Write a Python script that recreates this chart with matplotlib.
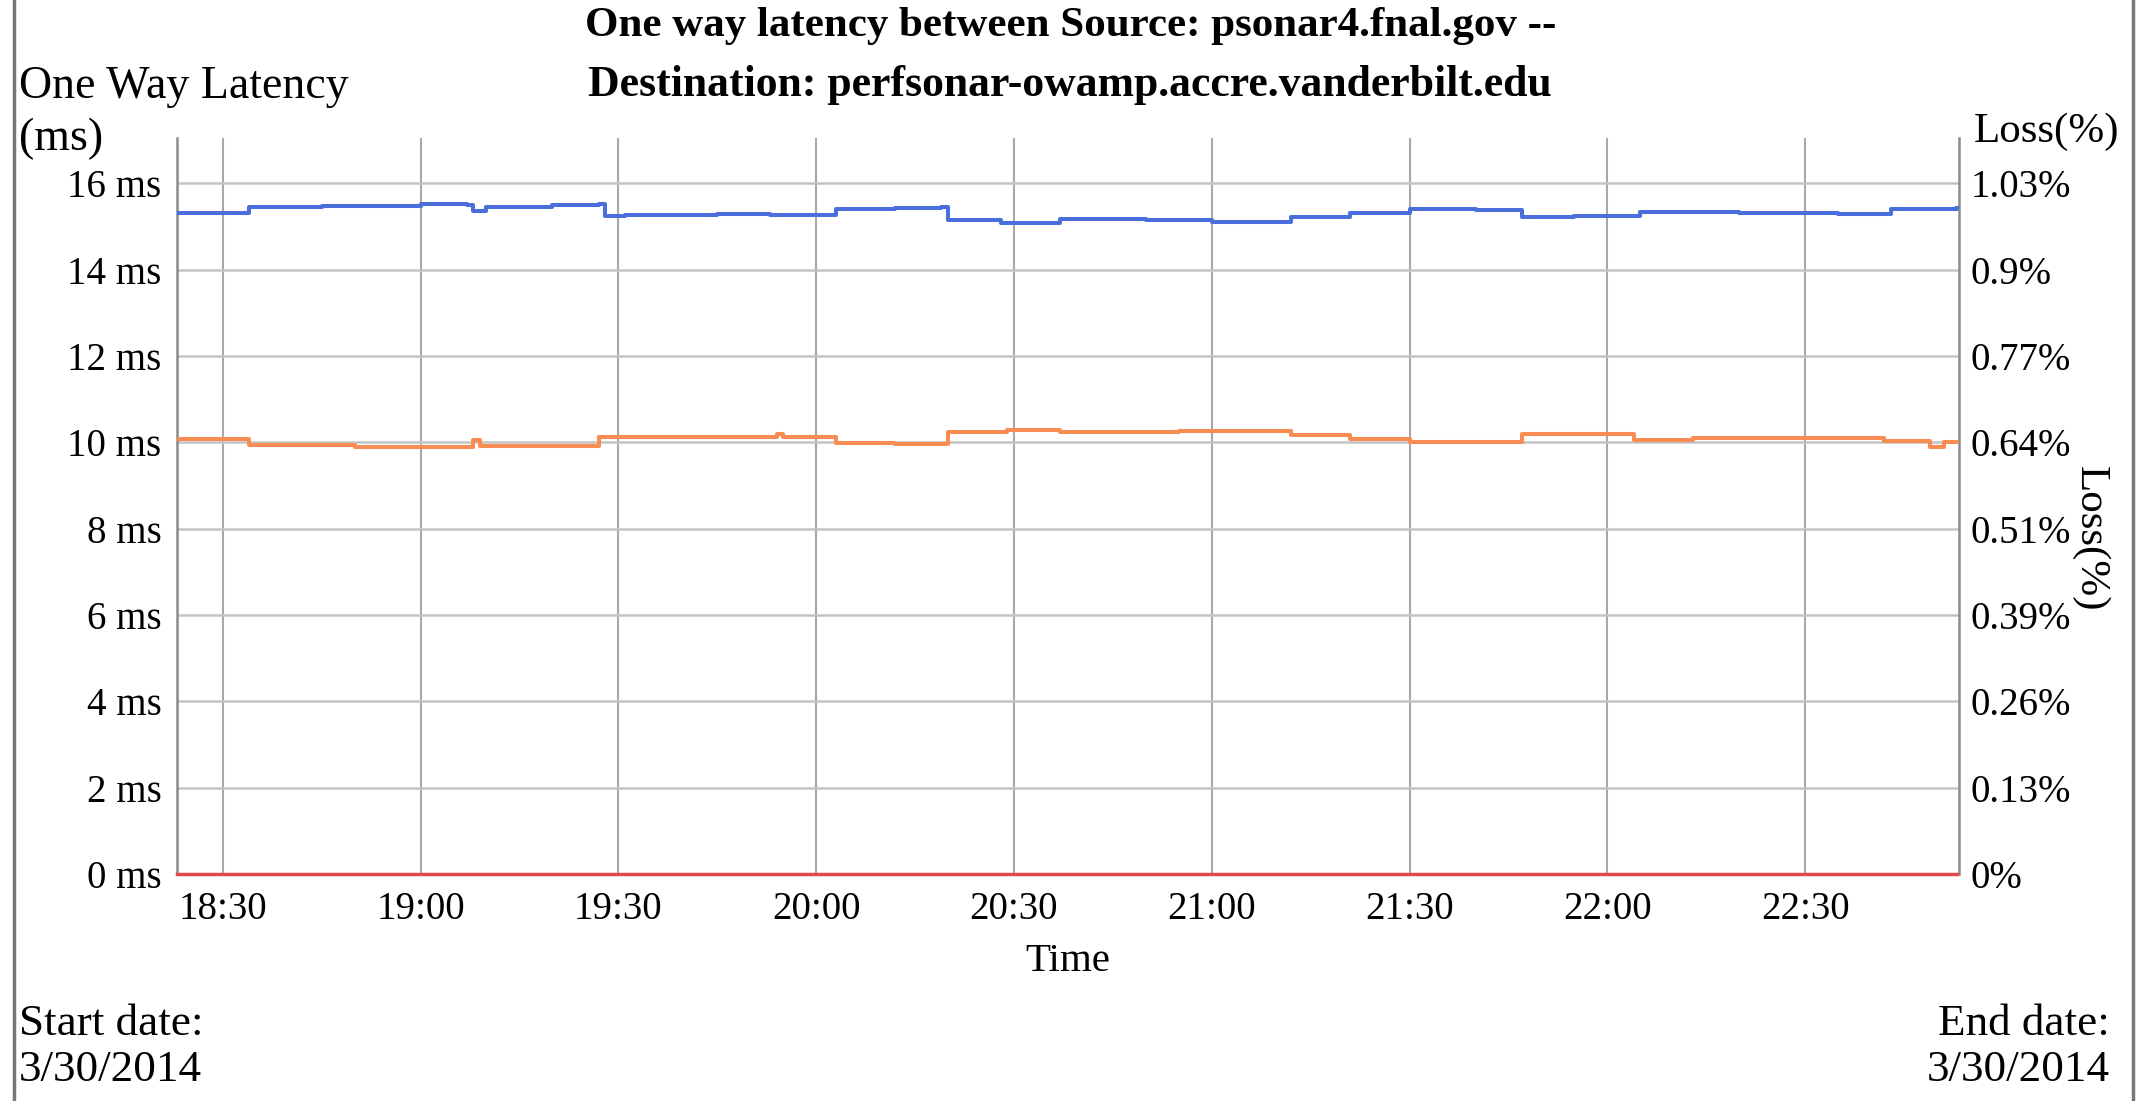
import matplotlib.pyplot as plt
import matplotlib.dates as mdates
import pandas as pd
from matplotlib.lines import Line2D

plt.rcParams['font.family'] = ['Liberation Serif', 'DejaVu Serif']

day = "2014-03-30 "

# one way delay, source -> destination (blue), step values held until next time
fwd_times = ["18:23", "18:34", "18:45", "19:00", "19:07", "19:08", "19:10", "19:20",
             "19:27", "19:28", "19:31", "19:45", "19:53", "20:03", "20:12", "20:19",
             "20:20", "20:28", "20:37", "20:50", "21:00", "21:12", "21:21", "21:30",
             "21:40", "21:47", "21:55", "22:05", "22:20", "22:35", "22:43", "22:53"]
fwd_ms = [15.30, 15.46, 15.48, 15.51, 15.50, 15.35, 15.46, 15.49,
          15.51, 15.24, 15.27, 15.28, 15.26, 15.41, 15.43, 15.44,
          15.16, 15.08, 15.18, 15.16, 15.10, 15.23, 15.31, 15.40,
          15.38, 15.21, 15.24, 15.34, 15.31, 15.28, 15.41, 15.42]

# one way delay, reverse direction (orange)
rev_times = ["18:23", "18:34", "18:50", "19:07", "19:08", "19:09", "19:27", "19:53",
             "19:54", "19:55", "20:03", "20:12", "20:20", "20:29", "20:37", "20:55",
             "21:12", "21:21", "21:30", "21:47", "22:04", "22:13", "22:42", "22:49",
             "22:51", "22:53"]
rev_ms = [10.07, 9.94, 9.90, 9.89, 10.05, 9.92, 10.13, 10.13,
          10.20, 10.12, 9.99, 9.95, 10.23, 10.29, 10.23, 10.27,
          10.17, 10.07, 10.00, 10.19, 10.05, 10.10, 10.02, 9.90,
          10.00, 10.00]

# packet loss (%)
loss_times = ["18:23", "22:53"]
loss_pct = [0.0, 0.0]

ms_ticks = [0, 2, 4, 6, 8, 10, 12, 14, 16]
ms_labels = ["0 ms", "2 ms", "4 ms", "6 ms", "8 ms", "10 ms", "12 ms", "14 ms", "16 ms"]
loss_labels = ["0%", "0.13%", "0.26%", "0.39%", "0.51%", "0.64%", "0.77%", "0.9%", "1.03%"]
time_ticks = ["18:30", "19:00", "19:30", "20:00", "20:30", "21:00", "21:30", "22:00", "22:30"]

ms_max = 17.05
loss_per_ms = 1.03 / 16


def to_dt(ts):
    return pd.to_datetime([day + t for t in ts])


fig = plt.figure(figsize=(21.38, 11.01), dpi=100)
ax = fig.add_axes([0.0826, 0.2062, 0.9163 - 0.0826, 0.8747 - 0.2062])

ax.plot(to_dt(fwd_times), fwd_ms, drawstyle='steps-post', color='#4a6fdc', lw=2.9, zorder=3)
ax.plot(to_dt(rev_times), rev_ms, drawstyle='steps-post', color='#f88c52', lw=2.9, zorder=3)

ax.set_xlim(pd.Timestamp(day + "18:23"), pd.Timestamp(day + "22:53:20"))
ax.set_ylim(0, ms_max)
ax.set_yticks(ms_ticks)
ax.set_yticklabels(ms_labels)
ax.set_xticks(to_dt(time_ticks))
ax.xaxis.set_major_formatter(mdates.DateFormatter('%H:%M'))

ax.tick_params(axis='both', length=0, labelsize=28)
ax.tick_params(axis='y', pad=11)
ax.tick_params(axis='x', pad=12)
ax.yaxis.grid(True, color='#c4c4c4', lw=1.8)
ax.xaxis.grid(True, color='#a8a8a8', lw=1.5)
ax.set_axisbelow(True)
for side in ['top', 'bottom']:
    ax.spines[side].set_visible(False)
for side in ['left', 'right']:
    ax.spines[side].set_color('#8a8a8a')
    ax.spines[side].set_linewidth(1.8)

ax2 = ax.twinx()
ax2.plot(to_dt(loss_times), loss_pct, color='#e0484a', lw=2.5, clip_on=False, zorder=4)
ax2.set_ylim(0, ms_max * loss_per_ms)
ax2.set_yticks([v * loss_per_ms for v in ms_ticks])
ax2.set_yticklabels(loss_labels)
ax2.tick_params(axis='y', length=0, labelsize=28, pad=8)
for side in ax2.spines:
    ax2.spines[side].set_visible(False)

ax.set_xlabel("Time", fontsize=29.5, labelpad=11)

fig.text(0.9777, 0.5105, "Loss(%)", rotation=270, ha='center', va='center', fontsize=31)

fig.text(0.5006, 0.9765, "One way latency between Source: psonar4.fnal.gov --",
         ha='center', va='center', fontsize=31, fontweight='bold')
fig.text(0.5006, 0.9225, "Destination: perfsonar-owamp.accre.vanderbilt.edu",
         ha='center', va='center', fontsize=31.5, fontweight='bold')

fig.text(0.009, 0.921, "One Way Latency", ha='left', va='center', fontsize=33)
fig.text(0.009, 0.874, "(ms)", ha='left', va='center', fontsize=33)
fig.text(0.923, 0.880, "Loss(%)", ha='left', va='center', fontsize=31)

fig.text(0.009, 0.070, "Start date:", ha='left', va='center', fontsize=32.5)
fig.text(0.009, 0.028, "3/30/2014", ha='left', va='center', fontsize=32.5)
fig.text(0.987, 0.070, "End date:", ha='right', va='center', fontsize=32.5)
fig.text(0.987, 0.028, "3/30/2014", ha='right', va='center', fontsize=32.5)

# page frame on the left and right
fig.add_artist(Line2D([0.0065, 0.0065], [0, 1], transform=fig.transFigure, color='#777777', lw=2.5))
fig.add_artist(Line2D([0.9977, 0.9977], [0, 1], transform=fig.transFigure, color='#777777', lw=2.5))

fig.savefig("out.png", dpi=100)
